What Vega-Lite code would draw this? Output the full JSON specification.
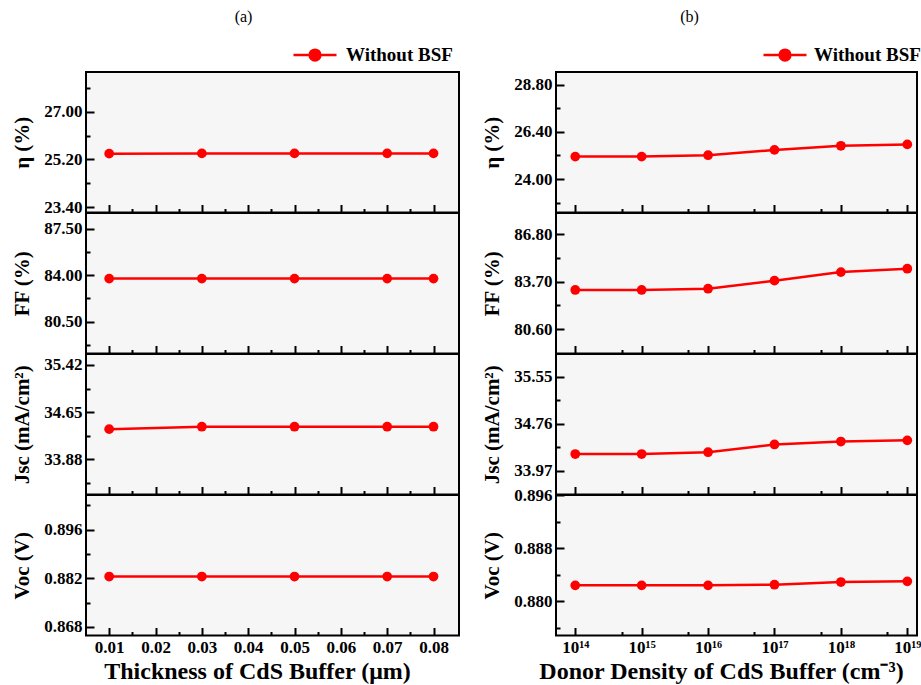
{
  "$schema": "https://vega.github.io/schema/vega-lite/v6.json",
  "background": "white",
  "padding": {"left": 10, "top": 8, "right": 0, "bottom": 0},
  "bounds": "flush",
  "columns": 2,
  "spacing": {"row": 0, "column": 97},
  "datasets": {
    "a": [
      {"t": 0.01, "eta": 25.42, "ff": 83.75, "jsc": 34.37, "voc": 0.8825},
      {"t": 0.03, "eta": 25.43, "ff": 83.75, "jsc": 34.41, "voc": 0.8825},
      {"t": 0.05, "eta": 25.43, "ff": 83.75, "jsc": 34.41, "voc": 0.8825},
      {"t": 0.07, "eta": 25.43, "ff": 83.75, "jsc": 34.41, "voc": 0.8825},
      {"t": 0.08, "eta": 25.43, "ff": 83.75, "jsc": 34.41, "voc": 0.8825}
    ],
    "b": [
      {"n": 1e14, "eta": 25.14, "ff": 83.16, "jsc": 34.25, "voc": 0.8824},
      {"n": 1e15, "eta": 25.14, "ff": 83.16, "jsc": 34.25, "voc": 0.8824},
      {"n": 1e16, "eta": 25.21, "ff": 83.24, "jsc": 34.28, "voc": 0.8824},
      {"n": 1e17, "eta": 25.48, "ff": 83.77, "jsc": 34.41, "voc": 0.8825},
      {"n": 1e18, "eta": 25.69, "ff": 84.33, "jsc": 34.46, "voc": 0.8829},
      {"n": 1e19, "eta": 25.76, "ff": 84.55, "jsc": 34.48, "voc": 0.8830}
    ]
  },
  "config": {
    "view": {"fill": "#f6f6f6", "stroke": "#000000", "strokeWidth": 2},
    "font": "Liberation Serif",
    "axis": {"grid": false, "domain": false, "labelFont": "Liberation Serif", "labelFontWeight": "bold", "labelFontSize": 17, "labelColor": "#000000", "titleFont": "Liberation Serif", "titleFontWeight": "bold", "titleFontSize": 21, "titleColor": "#000000", "tickColor": "#000000", "tickWidth": 2, "labelFlush": false, "labelOverlap": false, "labelPadding": 12},
    "title": {"font": "Liberation Serif", "fontSize": 16, "fontWeight": "normal", "color": "#000000"}
  },
  "resolve": {"scale": {"color": "independent"}, "legend": {"color": "independent"}},
  "concat": [
    {
      "title": {"text": "(a)", "anchor": "middle", "offset": 7, "dx": -29},
      "width": 373, "height": 140.5,
      "data": {"name": "a"},
      "encoding": {
        "x": {"field": "t", "type": "quantitative", "scale": {"domain": [0.005, 0.0855], "nice": false, "zero": false},
          "axis": {"values": [0.01,0.015,0.02,0.025,0.03,0.035,0.04,0.045,0.05,0.055,0.06,0.065,0.07,0.075,0.08], "labels": false, "title": null,
            "tickSize": {"condition": {"test": "abs(datum.value*100 - round(datum.value*100)) < 0.01", "value": -8}, "value": -4}}},
        "y": {"field": "eta", "type": "quantitative", "scale": {"domain": [23.2, 28.5], "nice": false, "zero": false},
          "axis": {"title": "η (%)", "titleX": -54, "values": [23.4, 24.3, 25.2, 26.1, 27.0, 27.9],
            "labelExpr": "indexof([23.4, 25.2, 27.0], datum.value) >= 0 ? format(datum.value, '.2f') : ''",
            "tickSize": {"condition": {"test": "indexof([23.4, 25.2, 27.0], datum.value) >= 0", "value": -8}, "value": -4}}}
      },
      "layer": [
        {"mark": {"type": "line", "strokeWidth": 2.5},
         "encoding": {"color": {"datum": "Without BSF", "type": "nominal", "scale": {"range": ["#ff0000"]},
           "legend": {"orient": "none", "legendX": 206, "legendY": -40, "title": null,
             "symbolType": "M-1,0L1,0M0.25,0A0.25,0.25,0,1,1,-0.25,0A0.25,0.25,0,1,1,0.25,0",
             "symbolSize": 1849, "symbolStrokeWidth": 2.5, "symbolFillColor": "#ff0000", "symbolStrokeColor": "#ff0000",
             "labelFont": "Liberation Serif", "labelFontWeight": "bold", "labelFontSize": 19, "labelColor": "#000000", "labelOffset": 8, "padding": 0}}}},
        {"mark": {"type": "point", "filled": true, "color": "#ff0000", "size": 95, "opacity": 1}}
      ]
    },
    {
      "title": {"text": "(b)", "anchor": "middle", "offset": 7, "dx": -47},
      "width": 361, "height": 140.5,
      "data": {"name": "b"},
      "encoding": {
        "x": {"field": "n", "type": "quantitative", "scale": {"type": "log", "domain": [5.13e13, 1.4e19], "nice": false},
          "axis": {"values": [1e14,5e14,1e15,5e15,1e16,5e16,1e17,5e17,1e18,5e18,1e19], "labels": false, "title": null,
            "tickSize": {"condition": {"test": "abs(log(datum.value)/LN10 - round(log(datum.value)/LN10)) < 0.01", "value": -8}, "value": -4}}},
        "y": {"field": "eta", "type": "quantitative", "scale": {"domain": [22.3, 29.44], "nice": false, "zero": false},
          "axis": {"title": "η (%)", "titleX": -54, "values": [22.8, 24.0, 25.2, 26.4, 27.6, 28.8],
            "labelExpr": "indexof([24.0, 26.4, 28.8], datum.value) >= 0 ? format(datum.value, '.2f') : ''",
            "tickSize": {"condition": {"test": "indexof([24.0, 26.4, 28.8], datum.value) >= 0", "value": -8}, "value": -4}}}
      },
      "layer": [
        {"mark": {"type": "line", "strokeWidth": 2.5},
         "encoding": {"color": {"datum": "Without BSF", "type": "nominal", "scale": {"range": ["#ff0000"]},
           "legend": {"orient": "none", "legendX": 206, "legendY": -40, "title": null,
             "symbolType": "M-1,0L1,0M0.25,0A0.25,0.25,0,1,1,-0.25,0A0.25,0.25,0,1,1,0.25,0",
             "symbolSize": 1849, "symbolStrokeWidth": 2.5, "symbolFillColor": "#ff0000", "symbolStrokeColor": "#ff0000",
             "labelFont": "Liberation Serif", "labelFontWeight": "bold", "labelFontSize": 19, "labelColor": "#000000", "labelOffset": 6, "padding": 0}}}},
        {"mark": {"type": "point", "filled": true, "color": "#ff0000", "size": 95, "opacity": 1}}
      ]
    },
    {
      "width": 373, "height": 140.5,
      "data": {"name": "a"},
      "encoding": {
        "x": {"field": "t", "type": "quantitative", "scale": {"domain": [0.005, 0.0855], "nice": false, "zero": false},
          "axis": {"values": [0.01,0.015,0.02,0.025,0.03,0.035,0.04,0.045,0.05,0.055,0.06,0.065,0.07,0.075,0.08], "labels": false, "title": null,
            "tickSize": {"condition": {"test": "abs(datum.value*100 - round(datum.value*100)) < 0.01", "value": -8}, "value": -4}}},
        "y": {"field": "ff", "type": "quantitative", "scale": {"domain": [78.1, 88.7], "nice": false, "zero": false},
          "axis": {"title": "FF (%)", "titleX": -54, "values": [78.75, 80.5, 82.25, 84.0, 85.75, 87.5],
            "labelExpr": "indexof([80.5, 84.0, 87.5], datum.value) >= 0 ? format(datum.value, '.2f') : ''",
            "tickSize": {"condition": {"test": "indexof([80.5, 84.0, 87.5], datum.value) >= 0", "value": -8}, "value": -4}}}
      },
      "layer": [
        {"mark": {"type": "line", "color": "#ff0000", "strokeWidth": 2.5}},
        {"mark": {"type": "point", "filled": true, "color": "#ff0000", "size": 95, "opacity": 1}}
      ]
    },
    {
      "width": 361, "height": 140.5,
      "data": {"name": "b"},
      "encoding": {
        "x": {"field": "n", "type": "quantitative", "scale": {"type": "log", "domain": [5.13e13, 1.4e19], "nice": false},
          "axis": {"values": [1e14,5e14,1e15,5e15,1e16,5e16,1e17,5e17,1e18,5e18,1e19], "labels": false, "title": null,
            "tickSize": {"condition": {"test": "abs(log(datum.value)/LN10 - round(log(datum.value)/LN10)) < 0.01", "value": -8}, "value": -4}}},
        "y": {"field": "ff", "type": "quantitative", "scale": {"domain": [79.0, 88.2], "nice": false, "zero": false},
          "axis": {"title": "FF (%)", "titleX": -54, "values": [80.6, 82.15, 83.7, 85.25, 86.8],
            "labelExpr": "indexof([80.6, 83.7, 86.8], datum.value) >= 0 ? format(datum.value, '.2f') : ''",
            "tickSize": {"condition": {"test": "indexof([80.6, 83.7, 86.8], datum.value) >= 0", "value": -8}, "value": -4}}}
      },
      "layer": [
        {"mark": {"type": "line", "color": "#ff0000", "strokeWidth": 2.5}},
        {"mark": {"type": "point", "filled": true, "color": "#ff0000", "size": 95, "opacity": 1}}
      ]
    },
    {
      "width": 373, "height": 140.5,
      "data": {"name": "a"},
      "encoding": {
        "x": {"field": "t", "type": "quantitative", "scale": {"domain": [0.005, 0.0855], "nice": false, "zero": false},
          "axis": {"values": [0.01,0.015,0.02,0.025,0.03,0.035,0.04,0.045,0.05,0.055,0.06,0.065,0.07,0.075,0.08], "labels": false, "title": null,
            "tickSize": {"condition": {"test": "abs(datum.value*100 - round(datum.value*100)) < 0.01", "value": -8}, "value": -4}}},
        "y": {"field": "jsc", "type": "quantitative", "scale": {"domain": [33.3, 35.6], "nice": false, "zero": false},
          "axis": {"title": "Jsc (mA/cm²)", "titleX": -54, "values": [33.495, 33.88, 34.265, 34.65, 35.035, 35.42],
            "labelExpr": "indexof([33.88, 34.65, 35.42], datum.value) >= 0 ? format(datum.value, '.2f') : ''",
            "tickSize": {"condition": {"test": "indexof([33.88, 34.65, 35.42], datum.value) >= 0", "value": -8}, "value": -4}}}
      },
      "layer": [
        {"mark": {"type": "line", "color": "#ff0000", "strokeWidth": 2.5}},
        {"mark": {"type": "point", "filled": true, "color": "#ff0000", "size": 95, "opacity": 1}}
      ]
    },
    {
      "width": 361, "height": 140.5,
      "data": {"name": "b"},
      "encoding": {
        "x": {"field": "n", "type": "quantitative", "scale": {"type": "log", "domain": [5.13e13, 1.4e19], "nice": false},
          "axis": {"values": [1e14,5e14,1e15,5e15,1e16,5e16,1e17,5e17,1e18,5e18,1e19], "labels": false, "title": null,
            "tickSize": {"condition": {"test": "abs(log(datum.value)/LN10 - round(log(datum.value)/LN10)) < 0.01", "value": -8}, "value": -4}}},
        "y": {"field": "jsc", "type": "quantitative", "scale": {"domain": [33.57, 35.93], "nice": false, "zero": false},
          "axis": {"title": "Jsc (mA/cm²)", "titleX": -54, "values": [33.97, 34.365, 34.76, 35.155, 35.55],
            "labelExpr": "indexof([33.97, 34.76, 35.55], datum.value) >= 0 ? format(datum.value, '.2f') : ''",
            "tickSize": {"condition": {"test": "indexof([33.97, 34.76, 35.55], datum.value) >= 0", "value": -8}, "value": -4}}}
      },
      "layer": [
        {"mark": {"type": "line", "color": "#ff0000", "strokeWidth": 2.5}},
        {"mark": {"type": "point", "filled": true, "color": "#ff0000", "size": 95, "opacity": 1}}
      ]
    },
    {
      "width": 373, "height": 140.5,
      "data": {"name": "a"},
      "encoding": {
        "x": {"field": "t", "type": "quantitative", "scale": {"domain": [0.005, 0.0855], "nice": false, "zero": false},
          "axis": {"values": [0.01,0.015,0.02,0.025,0.03,0.035,0.04,0.045,0.05,0.055,0.06,0.065,0.07,0.075,0.08],
            "title": "Thickness of CdS Buffer (μm)", "titleFontSize": 24, "titleX": 171, "titlePadding": 0,
            "labelExpr": "abs(datum.value*100 - round(datum.value*100)) < 0.01 ? format(datum.value, '.2f') : ''",
            "tickSize": {"condition": {"test": "abs(datum.value*100 - round(datum.value*100)) < 0.01", "value": -8}, "value": -4}}},
        "y": {"field": "voc", "type": "quantitative", "scale": {"domain": [0.8655, 0.906], "nice": false, "zero": false},
          "axis": {"title": "Voc (V)", "titleX": -54, "values": [0.868, 0.875, 0.882, 0.889, 0.896, 0.903],
            "labelExpr": "indexof([0.868, 0.882, 0.896], datum.value) >= 0 ? format(datum.value, '.3f') : ''",
            "tickSize": {"condition": {"test": "indexof([0.868, 0.882, 0.896], datum.value) >= 0", "value": -8}, "value": -4}}}
      },
      "layer": [
        {"mark": {"type": "line", "color": "#ff0000", "strokeWidth": 2.5}},
        {"mark": {"type": "point", "filled": true, "color": "#ff0000", "size": 95, "opacity": 1}}
      ]
    },
    {
      "width": 361, "height": 140.5,
      "data": {"name": "b"},
      "encoding": {
        "x": {"field": "n", "type": "quantitative", "scale": {"type": "log", "domain": [5.13e13, 1.4e19], "nice": false},
          "axis": {"values": [1e14,5e14,1e15,5e15,1e16,5e16,1e17,5e17,1e18,5e18,1e19],
            "title": "Donor Density of CdS Buffer (cm⁻³)", "titleFontSize": 24, "titleX": 165, "titlePadding": 0,
            "labelExpr": "abs(log(datum.value)/LN10 - round(log(datum.value)/LN10)) < 0.01 ? ['10¹⁴','10¹⁵','10¹⁶','10¹⁷','10¹⁸','10¹⁹'][round(log(datum.value)/LN10) - 14] : ''",
            "tickSize": {"condition": {"test": "abs(log(datum.value)/LN10 - round(log(datum.value)/LN10)) < 0.01", "value": -8}, "value": -4}}},
        "y": {"field": "voc", "type": "quantitative", "scale": {"domain": [0.87485, 0.896], "nice": false, "zero": false},
          "axis": {"title": "Voc (V)", "titleX": -54, "values": [0.876, 0.88, 0.884, 0.888, 0.892, 0.896],
            "labelExpr": "indexof([0.88, 0.888, 0.896], datum.value) >= 0 ? format(datum.value, '.3f') : ''",
            "tickSize": {"condition": {"test": "indexof([0.88, 0.888, 0.896], datum.value) >= 0", "value": -8}, "value": -4}}}
      },
      "layer": [
        {"mark": {"type": "line", "color": "#ff0000", "strokeWidth": 2.5}},
        {"mark": {"type": "point", "filled": true, "color": "#ff0000", "size": 95, "opacity": 1}}
      ]
    }
  ]
}
